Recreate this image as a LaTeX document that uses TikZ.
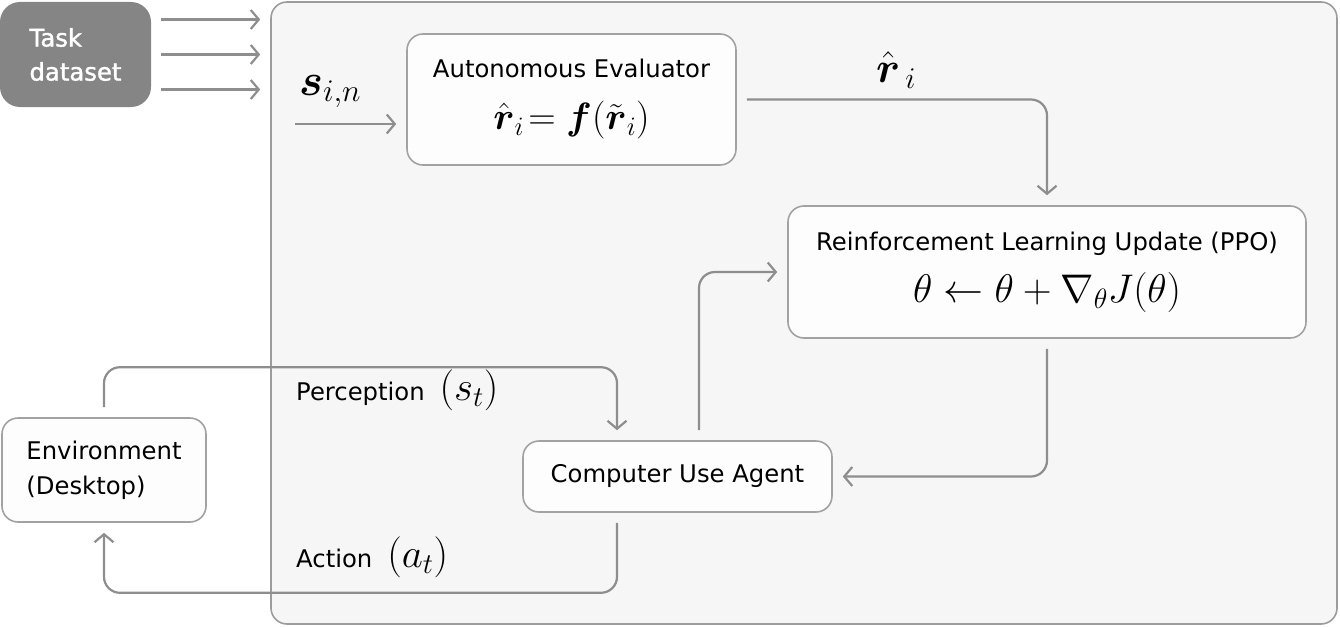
\RequirePackage{fix-cm}
\documentclass[tikz,border=0pt]{standalone}
\usepackage{amsmath}
\usepackage{fontspec}
\setmainfont{DejaVu Sans}
\usetikzlibrary{arrows.meta,calc}

\definecolor{framefill}{HTML}{F6F6F6}
\definecolor{framegray}{HTML}{9C9C9C}
\definecolor{boxfill}{HTML}{FDFDFD}
\definecolor{boxgray}{HTML}{A2A2A2}
\definecolor{linegray}{HTML}{8E8E8E}
\definecolor{taskfill}{HTML}{858585}

\tikzset{>={Straight Barb[length=8pt,width=19pt]}}
\tikzset{
  box/.style={draw=boxgray, line width=1.6pt, fill=boxfill, rounded corners=16pt,
    align=center, inner sep=0pt},
  flow/.style={draw=linegray, line width=2.2pt, rounded corners=16pt,
    shorten <=10pt, shorten >=10pt, ->},
  txt/.style={font=\fontsize{24.3}{35}\selectfont},
  twoline/.style={font=\fontsize{24.3}{52}\selectfont},
}
\newcommand{\bigmath}[2][38]{{\fontsize{#1}{52}\selectfont$#2$}}

\begin{document}
\begin{tikzpicture}[x=1pt,y=1pt]
  \useasboundingbox (0,0) rectangle (1340,-626);

  % frame and task source
  \node[draw=framegray, fill=framefill, line width=1.6pt, rounded corners=16pt,
    minimum width=1066pt, minimum height=622pt] (frame) at (804,-313) {};
  \node[fill=taskfill, rounded corners=20pt, minimum width=151pt, minimum height=105pt,
    text=white, align=left, font=\fontsize{24.3}{34}\selectfont] (task) at (75.5,-54.5)
    {\addfontfeature{FakeBold=1.5}Task\\\addfontfeature{FakeBold=1.5}dataset};
  \foreach \dy in {35,0,-35}
    \draw[flow] ([yshift=\dy]task.east) -- ([yshift=\dy]task.east -| frame.west);

  % boxes
  \node[box, twoline, minimum width=329pt, minimum height=131pt] (eval) at (571.5,-99.5)
    {Autonomous Evaluator\\
     \bigmath{\hat{\boldsymbol r}_i\!= \boldsymbol f(\tilde{\boldsymbol r}_i)}};
  \node[box, twoline, minimum width=518pt, minimum height=132pt] (rl) at (1047,-272)
    {Reinforcement Learning Update (PPO)\\
     \bigmath[40]{\theta \leftarrow \theta + \nabla_{\theta} J(\theta)}};
  \node[box, txt, minimum width=309pt, minimum height=71pt] (cua) at (677.5,-476.5)
    {Computer Use Agent};
  \node[box, txt, minimum width=204pt, minimum height=104pt, align=left] (env) at (104,-470)
    {Environment\\(Desktop)\hspace*{31pt}};

  % labels
  \node[anchor=base west, inner sep=0pt, font=\fontsize{45}{50}\selectfont] (sin)
    at (299,-95) {$\boldsymbol{s}_{i,n}$};
  \node[anchor=base west, inner sep=0pt, font=\fontsize{43}{50}\selectfont] (rhat)
    at (876,-82) {$\hat{\boldsymbol r}_{\,i}$};
  \node[anchor=base west, inner sep=0pt] (perc) at (296,-400)
    {\fontsize{24.3}{28}\selectfont Perception\hspace{15pt}\fontsize{41}{44}\selectfont$(s_t)$};
  \node[anchor=base west, inner sep=0pt] (act) at (296,-567)
    {\fontsize{24.3}{28}\selectfont Action\hspace{15pt}\fontsize{41}{44}\selectfont$(a_t)$};

  % connectors
  \coordinate (sinstart) at (285,-124);
  \draw[flow] (sinstart) -- (sinstart -| eval.west);
  \draw[flow] (eval.east) -| (rl.north);
  \draw[flow] (rl.south) |- (cua.east);
  \draw[flow] ([xshift=21.5pt]cua.north) |- (rl.west);
  \draw[flow] (env.north) -- ++(0,50) -| ([xshift=-60.5pt]cua.north);
  \draw[flow] ([xshift=-60.5pt]cua.south) -- ++(0,-80) -| (env.south);
\end{tikzpicture}
\end{document}
